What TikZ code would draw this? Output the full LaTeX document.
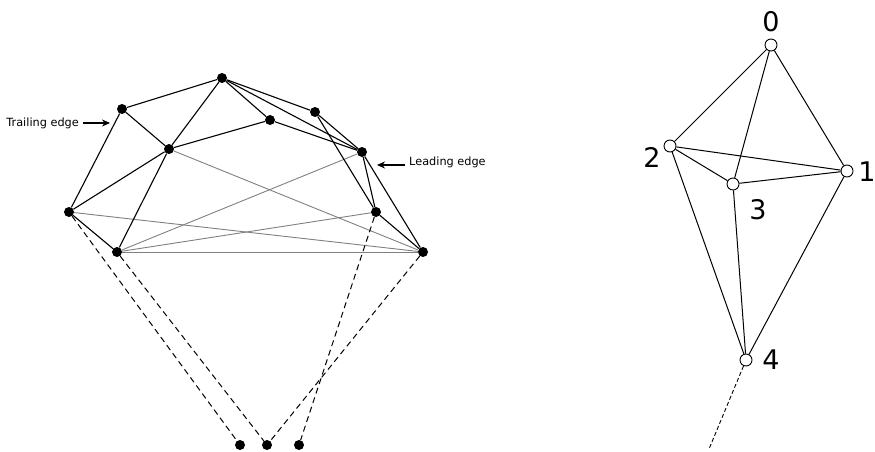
\documentclass[tikz,border=0pt]{standalone}
\usepackage{fontspec}
\setmainfont{DejaVu Sans}
\usetikzlibrary{arrows.meta}
\begin{document}
\begin{tikzpicture}[x=1pt,y=-1pt,
  dot/.style={circle,fill=black,inner sep=0pt,minimum size=10pt},
  ring/.style={circle,draw=black,fill=white,line width=0.9pt,inner sep=0pt,minimum size=12pt},
  edge/.style={line width=1.1pt,black},
  grayedge/.style={line width=0.9pt,black!50},
  dashedge/.style={line width=1pt,black,dash pattern=on 6pt off 4pt},
  thinedge/.style={line width=1pt,black},
  thindash/.style={line width=0.9pt,black,dash pattern=on 4pt off 2.5pt},
  lab/.style={font=\fontsize{11.3}{13}\selectfont,inner sep=0pt},
  num/.style={font=\fontsize{27}{30}\selectfont,inner sep=0pt},
  pointer/.style={line width=1.1pt,-{Stealth[length=8pt,width=7pt]}}]
\useasboundingbox (0,0) rectangle (875,452);
% left figure nodes
\node[dot] (A) at (222,78) {};
\node[dot] (B) at (122,109) {};
\node[dot] (C) at (169,149) {};
\node[dot] (D) at (270,120) {};
\node[dot] (E) at (315,112) {};
\node[dot] (F) at (362,152) {};
\node[dot] (G) at (69,212) {};
\node[dot] (H) at (117,252) {};
\node[dot] (I) at (376,212) {};
\node[dot] (J) at (423,252) {};
\node[dot] (K1) at (240,445) {};
\node[dot] (K2) at (267,445) {};
\node[dot] (K3) at (299,445) {};
% gray edges
\draw[grayedge] (C) -- (J);
\draw[grayedge] (H) -- (F);
\draw[grayedge] (G) -- (J);
\draw[grayedge] (H) -- (I);
\draw[grayedge] (H) -- (J);
% black edges
\draw[edge] (A) -- (B);
\draw[edge] (B) -- (C);
\draw[edge] (B) -- (G);
\draw[edge] (A) -- (C);
\draw[edge] (C) -- (G);
\draw[edge] (C) -- (H);
\draw[edge] (G) -- (H);
\draw[edge] (C) -- (D);
\draw[edge] (A) -- (D);
\draw[edge] (D) -- (F);
\draw[edge] (A) -- (E);
\draw[edge] (A) -- (F);
\draw[edge] (E) -- (F);
\draw[edge] (E) -- (I);
\draw[edge] (F) -- (I);
\draw[edge] (F) -- (J);
\draw[edge] (I) -- (J);
% dashed edges
\draw[dashedge] (G) -- (K1);
\draw[dashedge] (H) -- (K2);
\draw[dashedge] (J) -- (K2);
\draw[dashedge] (I) -- (K3);
% labels
\node[lab,anchor=east] (TL) at (79,123) {Trailing edge};
\coordinate (TS) at (83,123);
\coordinate (TA) at (110,123);
\draw[pointer] (TS) -- (TA);
\node[lab,anchor=west] (LL) at (409,162) {Leading edge};
\coordinate (LA) at (377,165);
\coordinate (LS) at (405,165);
\draw[pointer] (LS) -- (LA);
% right figure
\node[ring] (n0) at (771,45) {};
\node[ring] (n1) at (847,171) {};
\node[ring] (n2) at (670,146) {};
\node[ring] (n3) at (733,184) {};
\node[ring] (n4) at (746,360) {};
\coordinate (tail) at (709,449);
\draw[thinedge] (n0) -- (n2);
\draw[thinedge] (n0) -- (n3);
\draw[thinedge] (n0) -- (n1);
\draw[thinedge] (n2) -- (n1);
\draw[thinedge] (n2) -- (n3);
\draw[thinedge] (n3) -- (n1);
\draw[thinedge] (n2) -- (n4);
\draw[thinedge] (n3) -- (n4);
\draw[thinedge] (n1) -- (n4);
\draw[thindash] (n4) -- (tail);
\node[num] (l0) at (771,22) {0};
\node[num] (l1) at (867,172) {1};
\node[num] (l2) at (652,157) {2};
\node[num] (l3) at (758,210) {3};
\node[num] (l4) at (771,360) {4};
\end{tikzpicture}
\end{document}
